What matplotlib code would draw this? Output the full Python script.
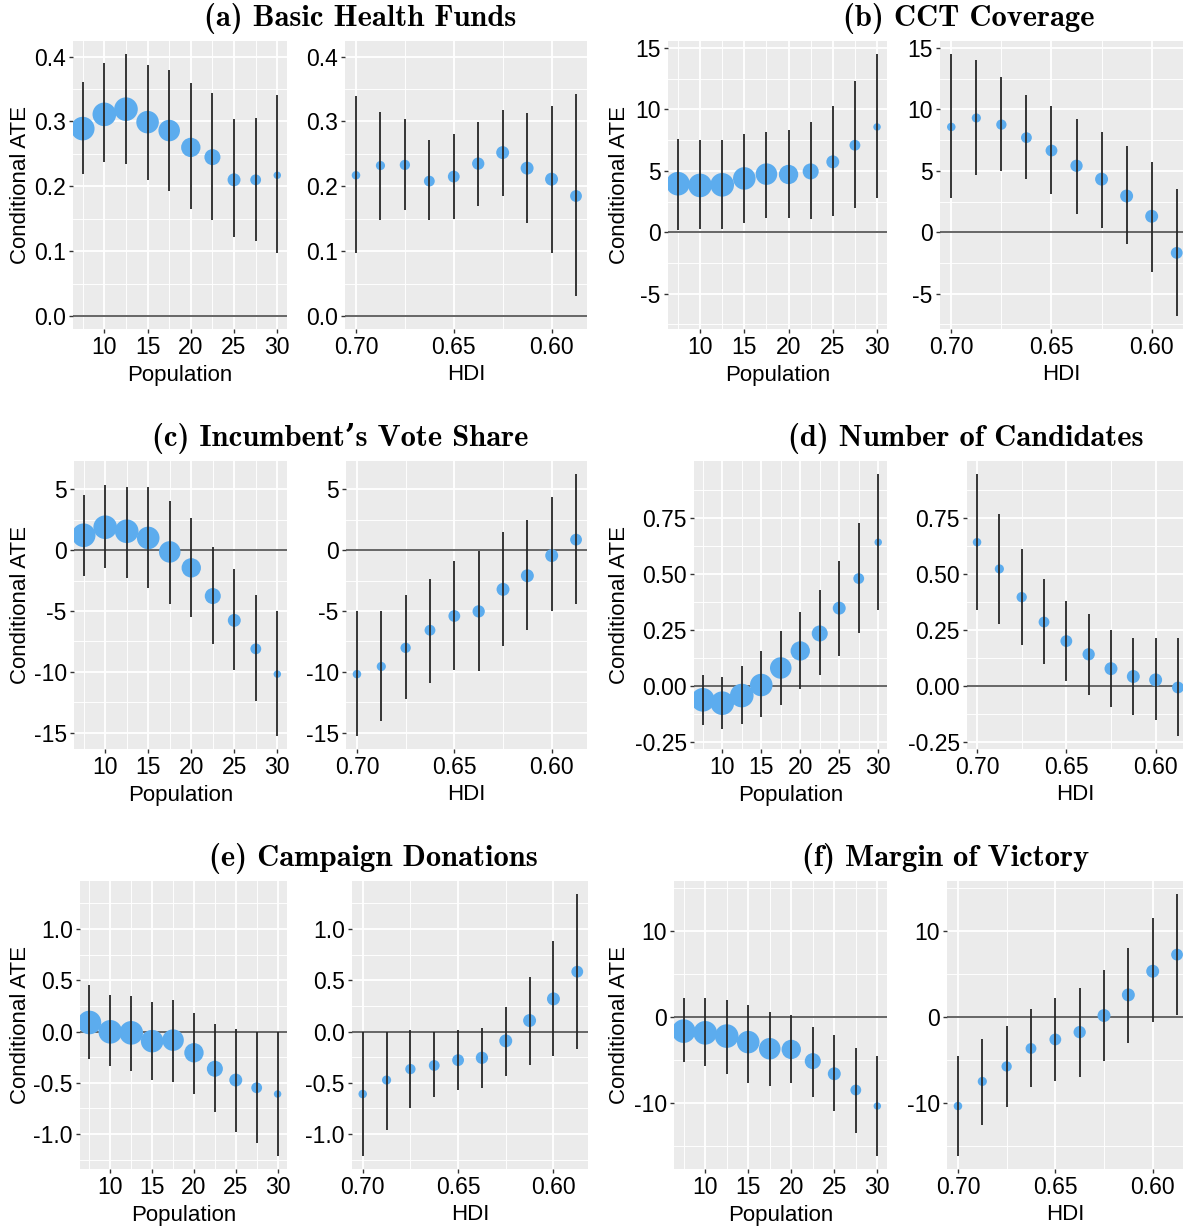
import numpy as np
import matplotlib
matplotlib.use("Agg")
import matplotlib.pyplot as plt

plt.rcParams["font.family"] = ["Liberation Sans", "DejaVu Sans"]

# bins used for the heterogeneity plots
pop_x = [7.5, 10, 12.5, 15, 17.5, 20, 22.5, 25, 27.5, 30]
hdi_x = [0.70, 0.6875, 0.675, 0.6625, 0.65, 0.6375, 0.625, 0.6125, 0.60, 0.5875]
# relative number of municipalities in each bin (drives point size)
pop_weight = [1.0, 1.0, 1.0, 0.91, 0.83, 0.67, 0.46, 0.30, 0.21, 0.10]
hdi_weight = [0.13, 0.15, 0.19, 0.21, 0.25, 0.27, 0.30, 0.30, 0.30, 0.25]

pop_ticks = [10, 15, 20, 25, 30]
pop_labels = ["10", "15", "20", "25", "30"]
hdi_ticks = [0.70, 0.65, 0.60]
hdi_labels = ["0.70", "0.65", "0.60"]

# (a) Basic Health Funds
a_pop_est = [0.289, 0.311, 0.319, 0.299, 0.286, 0.260, 0.245, 0.210, 0.210, 0.217]
a_pop_lo = [0.219, 0.237, 0.235, 0.209, 0.192, 0.165, 0.148, 0.121, 0.115, 0.097]
a_pop_hi = [0.361, 0.391, 0.404, 0.387, 0.379, 0.359, 0.344, 0.304, 0.306, 0.341]
a_hdi_est = [0.217, 0.232, 0.233, 0.208, 0.215, 0.235, 0.252, 0.228, 0.211, 0.185]
a_hdi_lo = [0.097, 0.148, 0.164, 0.148, 0.150, 0.170, 0.185, 0.143, 0.097, 0.030]
a_hdi_hi = [0.340, 0.314, 0.304, 0.271, 0.280, 0.299, 0.318, 0.313, 0.324, 0.342]
a_yticks = [0.0, 0.1, 0.2, 0.3, 0.4]
a_ylabels = ["0.0", "0.1", "0.2", "0.3", "0.4"]

# (b) CCT Coverage
b_pop_est = [3.95, 3.81, 3.86, 4.38, 4.73, 4.70, 4.95, 5.73, 7.08, 8.57]
b_pop_lo = [0.16, 0.24, 0.24, 0.73, 1.19, 1.19, 1.11, 1.30, 1.97, 2.76]
b_pop_hi = [7.62, 7.54, 7.54, 8.03, 8.14, 8.32, 9.00, 10.30, 12.35, 14.50]
b_hdi_est = [8.57, 9.30, 8.76, 7.70, 6.65, 5.41, 4.32, 2.95, 1.30, -1.68]
b_hdi_lo = [2.76, 4.62, 4.97, 4.30, 3.14, 1.51, 0.38, -0.95, -3.20, -6.81]
b_hdi_hi = [14.50, 14.00, 12.60, 11.16, 10.30, 9.22, 8.14, 7.00, 5.70, 3.54]
b_yticks = [-5, 0, 5, 10, 15]
b_ylabels = ["-5", "0", "5", "10", "15"]

# (c) Incumbent's Vote Share
c_pop_est = [1.23, 1.89, 1.56, 1.01, -0.14, -1.45, -3.77, -5.77, -8.11, -10.19]
c_pop_lo = [-2.13, -1.45, -2.27, -3.09, -4.45, -5.52, -7.68, -9.84, -12.40, -15.27]
c_pop_hi = [4.54, 5.36, 5.16, 5.16, 4.07, 2.68, 0.25, -1.56, -3.72, -5.03]
c_hdi_est = [-10.19, -9.56, -8.03, -6.58, -5.41, -5.03, -3.22, -2.10, -0.44, 0.87]
c_hdi_lo = [-15.27, -14.07, -12.21, -10.93, -9.84, -9.92, -7.87, -6.56, -5.00, -4.40]
c_hdi_hi = [-5.03, -5.03, -3.72, -2.35, -0.87, -0.03, 1.48, 2.51, 4.37, 6.26]
c_yticks = [-15, -10, -5, 0, 5]
c_ylabels = ["-15", "-10", "-5", "0", "5"]

# (d) Number of Candidates
d_pop_est = [-0.062, -0.077, -0.043, 0.004, 0.080, 0.156, 0.234, 0.347, 0.479, 0.641]
d_pop_lo = [-0.174, -0.190, -0.168, -0.137, -0.083, -0.012, 0.050, 0.135, 0.237, 0.338]
d_pop_hi = [0.050, 0.039, 0.088, 0.157, 0.243, 0.332, 0.430, 0.558, 0.728, 0.945]
d_hdi_est = [0.641, 0.522, 0.396, 0.285, 0.200, 0.141, 0.077, 0.042, 0.027, -0.007]
d_hdi_lo = [0.338, 0.276, 0.182, 0.096, 0.022, -0.039, -0.095, -0.129, -0.153, -0.223]
d_hdi_hi = [0.945, 0.767, 0.613, 0.478, 0.377, 0.323, 0.248, 0.212, 0.212, 0.212]
d_yticks = [-0.25, 0.0, 0.25, 0.5, 0.75]
d_ylabels = ["-0.25", "0.00", "0.25", "0.50", "0.75"]

# (e) Campaign Donations
e_pop_est = [0.088, -0.003, -0.013, -0.094, -0.084, -0.207, -0.363, -0.473, -0.548, -0.609]
e_pop_lo = [-0.263, -0.337, -0.383, -0.473, -0.489, -0.606, -0.781, -0.979, -1.086, -1.212]
e_pop_hi = [0.457, 0.357, 0.344, 0.285, 0.305, 0.178, 0.075, 0.026, -0.004, -0.008]
e_hdi_est = [-0.609, -0.473, -0.366, -0.331, -0.279, -0.256, -0.091, 0.107, 0.318, 0.583]
e_hdi_lo = [-1.212, -0.956, -0.746, -0.639, -0.571, -0.548, -0.431, -0.324, -0.243, -0.172]
e_hdi_hi = [-0.008, -0.004, 0.013, -0.002, 0.013, 0.036, 0.237, 0.532, 0.882, 1.339]
e_yticks = [-1.0, -0.5, 0.0, 0.5, 1.0]
e_ylabels = ["-1.0", "-0.5", "0.0", "0.5", "1.0"]

# (f) Margin of Victory
f_pop_est = [-1.62, -1.82, -2.20, -2.90, -3.67, -3.75, -5.11, -6.58, -8.47, -10.33]
f_pop_lo = [-5.22, -5.69, -6.58, -7.62, -8.05, -7.62, -9.28, -10.95, -13.42, -16.13]
f_pop_hi = [2.24, 2.24, 2.01, 1.47, 0.62, 0.23, -1.16, -2.09, -3.60, -4.56]
f_hdi_est = [-10.33, -7.47, -5.73, -3.64, -2.59, -1.74, 0.19, 2.59, 5.34, 7.27]
f_hdi_lo = [-16.13, -12.50, -10.41, -8.16, -7.47, -6.92, -5.07, -2.98, -0.58, 0.23]
f_hdi_hi = [-4.56, -2.48, -0.97, 0.97, 2.24, 3.40, 5.49, 8.01, 11.49, 14.31]
f_yticks = [-10, 0, 10]
f_ylabels = ["-10", "0", "10"]

titles = ["(a) Basic Health Funds", "(b) CCT Coverage", "(c) Incumbent\u2019s Vote Share",
          "(d) Number of Candidates", "(e) Campaign Donations", "(f) Margin of Victory"]

W, H = 1183, 1229
fig = plt.figure(figsize=(W / 100, H / 100), dpi=100)

POINT = "#5CACEE"


def px_box(l, r, t, b):
    return [l / W, 1 - b / H, (r - l) / W, (b - t) / H]


def expand(lo, hi, frac=0.05):
    d = (hi - lo) * frac
    return lo - d, hi + d


def mids(ticks):
    step = ticks[1] - ticks[0]
    t = [ticks[0] - step] + list(ticks) + [ticks[-1] + step]
    return [(t[i] + t[i + 1]) / 2 for i in range(len(t) - 1)]


def draw(ax, x, est, lo, hi, weight, ylim, yticks, ylabels, xticks, xlabels, xlim):
    ax.set_facecolor("#EBEBEB")
    for s in ax.spines.values():
        s.set_visible(False)
    ax.set_xticks(xticks)
    ax.set_xticklabels(xlabels)
    ax.set_xticks(mids(xticks), minor=True)
    ax.set_yticks(yticks)
    ax.set_yticklabels(ylabels)
    ax.set_yticks(mids(yticks), minor=True)
    # limits go after the ticks, set_ticks would widen the view otherwise
    ax.set_xlim(*xlim)
    ax.set_ylim(*ylim)
    ax.set_axisbelow(True)
    ax.grid(which="major", color="white", lw=1.3)
    ax.grid(which="minor", color="white", lw=0.65)
    ax.tick_params(which="minor", length=0)
    ax.tick_params(which="major", length=3.2, width=1.0, color="#333333",
                   labelsize=16.5, pad=2, labelcolor="black")
    ax.axhline(0, color="#5a5a5a", lw=1.3, zorder=1)
    ax.scatter(x, est, s=np.asarray(weight) * 290, color=POINT, lw=0, zorder=2)
    ax.vlines(x, lo, hi, color="#262626", lw=1.3, zorder=3)


panels = [
    (a_pop_est, a_pop_lo, a_pop_hi, a_hdi_est, a_hdi_lo, a_hdi_hi, a_yticks, a_ylabels),
    (b_pop_est, b_pop_lo, b_pop_hi, b_hdi_est, b_hdi_lo, b_hdi_hi, b_yticks, b_ylabels),
    (c_pop_est, c_pop_lo, c_pop_hi, c_hdi_est, c_hdi_lo, c_hdi_hi, c_yticks, c_ylabels),
    (d_pop_est, d_pop_lo, d_pop_hi, d_hdi_est, d_hdi_lo, d_hdi_hi, d_yticks, d_ylabels),
    (e_pop_est, e_pop_lo, e_pop_hi, e_hdi_est, e_hdi_lo, e_hdi_hi, e_yticks, e_ylabels),
    (f_pop_est, f_pop_lo, f_pop_hi, f_hdi_est, f_hdi_lo, f_hdi_hi, f_yticks, f_ylabels),
]

# pixel layout of each pair of panels
row_top = [41, 461, 881]
row_bot = [329, 749, 1169]
pop_lr = [(73, 287), (668, 887), (74, 287), (694, 887), (80, 287), (674, 887)]
hdi_lr = [(345, 587), (940, 1188), (346, 587), (967, 1188), (352, 588), (947, 1188)]
title_x = [360, 969, 340, 966, 373, 946]

pop_xlim = expand(min(pop_x), max(pop_x))
hx = expand(min(hdi_x), max(hdi_x))
hdi_xlim = (hx[1], hx[0])

for i, (pe, pl, ph, he, hl, hh, yt, yl) in enumerate(panels):
    row, col = divmod(i, 2)
    top, bot = row_top[row], row_bot[row]
    ylim = expand(min(min(pl), min(hl), 0), max(max(ph), max(hh), 0))

    ax1 = fig.add_axes(px_box(pop_lr[i][0], pop_lr[i][1], top, bot))
    draw(ax1, pop_x, pe, pl, ph, pop_weight, ylim, yt, yl, pop_ticks, pop_labels, pop_xlim)
    ax2 = fig.add_axes(px_box(hdi_lr[i][0], hdi_lr[i][1], top, bot))
    draw(ax2, hdi_x, he, hl, hh, hdi_weight, ylim, yt, yl, hdi_ticks, hdi_labels, hdi_xlim)

    x0 = 20 if col == 0 else 620
    fig.text(x0 / W, 1 - (top + bot) / 2 / H, "Conditional ATE", rotation=90,
             ha="center", va="center", size=16)
    fig.text((pop_lr[i][0] + pop_lr[i][1]) / 2 / W, 1 - (bot + 46) / H, "Population",
             ha="center", va="center", size=16)
    fig.text((hdi_lr[i][0] + min(hdi_lr[i][1], W)) / 2 / W, 1 - (bot + 46) / H, "HDI",
             ha="center", va="center", size=16)
    fig.text(title_x[i] / W, 1 - (top - 23) / H, titles[i],
             family=["cmb10", "DejaVu Serif"], weight="bold",
             size=22, ha="center", va="center")

fig.savefig("out.png", dpi=100, facecolor="white")
